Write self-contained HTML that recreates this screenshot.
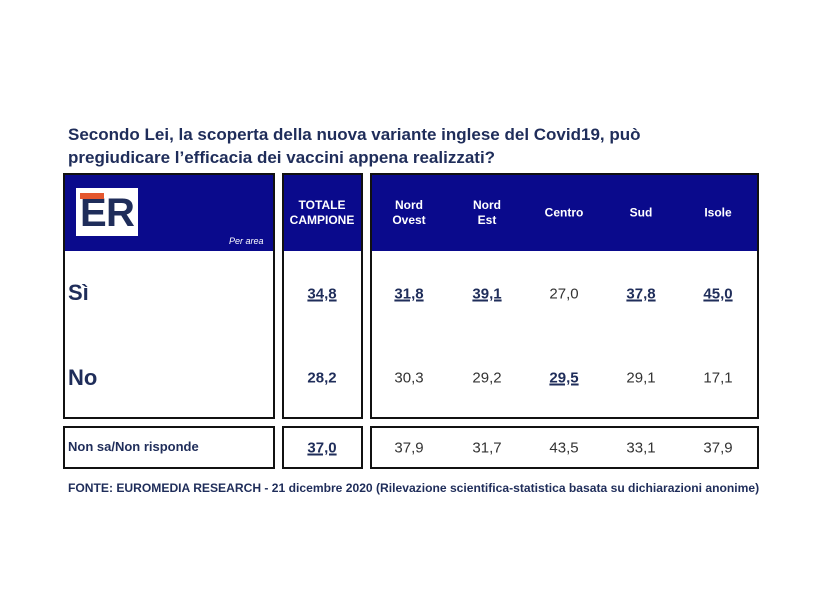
<!DOCTYPE html><html><head><style>
body{margin:0;width:835px;height:607px;background:#fff;position:relative;font-family:"Liberation Sans",sans-serif;overflow:hidden}
.a{position:absolute}
.box{position:absolute;border:2px solid #111;box-sizing:border-box}
.hd{position:absolute;background:#0a0a8c}
.c{position:absolute;transform:translate(-50%,-50%);white-space:nowrap;font-size:15px;color:#333}
.h{color:#fff;font-weight:bold;font-size:12px;text-align:center;line-height:15px}
.u{font-weight:bold;text-decoration:underline;color:#1f2d5a;text-decoration-thickness:2px}
.b{font-weight:bold;color:#1f2d5a}
</style></head><body>
<div class="a" style="left:68px;top:123px;font-size:17px;font-weight:bold;color:#1f2d5a;line-height:23px">Secondo Lei, la scoperta della nuova variante inglese del Covid19, può<br>pregiudicare l’efficacia dei vaccini appena realizzati?</div>
<div class="hd" style="left:64px;top:174px;width:210px;height:77px"></div>
<div class="hd" style="left:283px;top:174px;width:79px;height:77px"></div>
<div class="hd" style="left:371px;top:174px;width:387px;height:77px"></div>
<div class="box" style="left:63px;top:173px;width:212px;height:246px"></div>
<div class="box" style="left:282px;top:173px;width:81px;height:246px"></div>
<div class="box" style="left:370px;top:173px;width:389px;height:246px"></div>
<div class="box" style="left:63px;top:426px;width:212px;height:43px"></div>
<div class="box" style="left:282px;top:426px;width:81px;height:43px"></div>
<div class="box" style="left:370px;top:426px;width:389px;height:43px"></div>
<div class="a" style="left:76px;top:188px;width:62px;height:48px;background:#fff"></div>
<div class="a" style="left:80px;top:193px;font-weight:bold;font-size:40px;line-height:40px;color:#1f2d5a">E</div>
<div class="a" style="left:80px;top:193px;width:24px;height:6px;background:#e4572e"></div>
<div class="a" style="left:106px;top:193px;font-weight:bold;font-size:40px;line-height:40px;color:#1f2d5a">R</div>
<div class="a" style="left:229px;top:236px;font-size:9px;font-style:italic;color:#fff">Per area</div>
<div class="c h" style="left:322px;top:213px">TOTALE<br>CAMPIONE</div>
<div class="c h" style="left:409px;top:213px">Nord<br>Ovest</div>
<div class="c h" style="left:487px;top:213px">Nord<br>Est</div>
<div class="c h" style="left:564px;top:213px">Centro</div>
<div class="c h" style="left:641px;top:213px">Sud</div>
<div class="c h" style="left:718px;top:213px">Isole</div>
<div class="a b" style="left:68px;top:280px;font-size:22px">Sì</div>
<div class="a b" style="left:68px;top:365px;font-size:22px">No</div>
<div class="a b" style="left:68px;top:439px;font-size:13px">Non sa/Non risponde</div>
<div class="c u" style="left:322px;top:294px">34,8</div>
<div class="c u" style="left:409px;top:294px">31,8</div>
<div class="c u" style="left:487px;top:294px">39,1</div>
<div class="c" style="left:564px;top:294px">27,0</div>
<div class="c u" style="left:641px;top:294px">37,8</div>
<div class="c u" style="left:718px;top:294px">45,0</div>
<div class="c b" style="left:322px;top:378px">28,2</div>
<div class="c" style="left:409px;top:378px">30,3</div>
<div class="c" style="left:487px;top:378px">29,2</div>
<div class="c u" style="left:564px;top:378px">29,5</div>
<div class="c" style="left:641px;top:378px">29,1</div>
<div class="c" style="left:718px;top:378px">17,1</div>
<div class="c u" style="left:322px;top:448px">37,0</div>
<div class="c" style="left:409px;top:448px">37,9</div>
<div class="c" style="left:487px;top:448px">31,7</div>
<div class="c" style="left:564px;top:448px">43,5</div>
<div class="c" style="left:641px;top:448px">33,1</div>
<div class="c" style="left:718px;top:448px">37,9</div>
<div class="a" style="left:68px;top:481px;font-size:12.1px;font-weight:bold;color:#1f2d5a;white-space:nowrap">FONTE: EUROMEDIA RESEARCH - 21 dicembre 2020 (Rilevazione scientifica-statistica basata su dichiarazioni anonime)</div>
</body></html>
